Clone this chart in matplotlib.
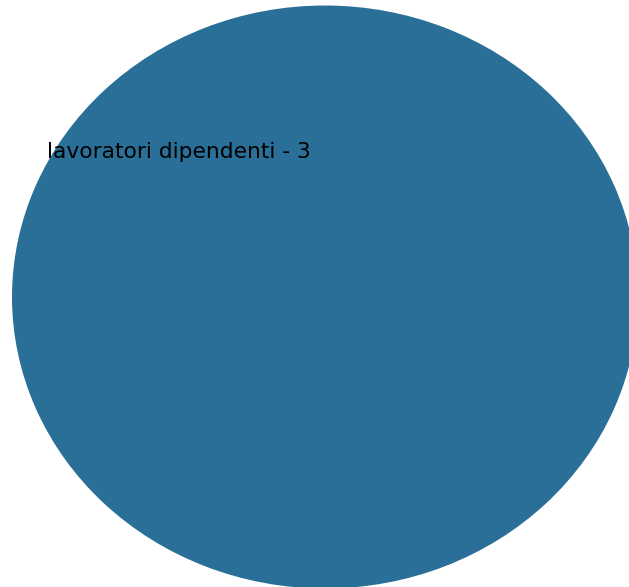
import matplotlib
matplotlib.use("Agg")
import matplotlib.pyplot as plt

# single category pie
categories = ["lavoratori dipendenti"]
counts = [3]
colors = ["#2a6f97"]

labels = [f"{c} - {n}" for c, n in zip(categories, counts)]

fig = plt.figure(figsize=(6.29, 5.87), dpi=100)
# axes runs a little past the right edge of the figure
ax = fig.add_axes([12 / 629, -1.5 / 587, 626 / 629, 583 / 587])

wedges, texts = ax.pie(counts, labels=labels, colors=colors,
                       startangle=-84.8, labeldistance=0.5,
                       textprops={"fontsize": 15.7, "color": "black"})
ax.set_aspect("auto")
ax.set_xlim(-1, 1)
ax.set_ylim(-1, 1)
ax.axis("off")

fig.savefig("out.png", dpi=100)
